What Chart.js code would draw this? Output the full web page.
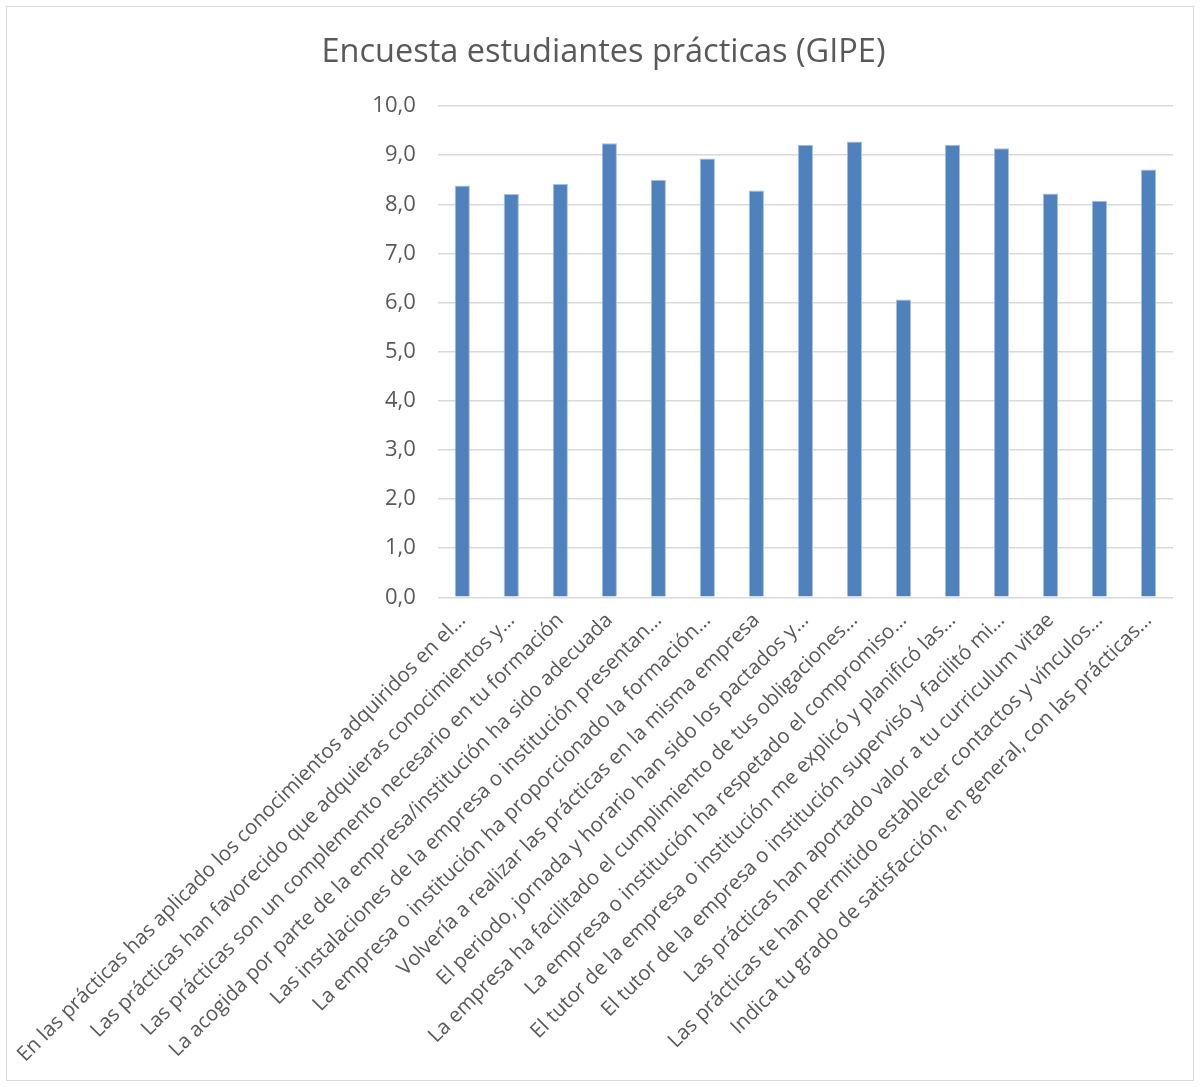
<!DOCTYPE html>
<html>
<head>
<meta charset="utf-8">
<script src="https://cdn.jsdelivr.net/npm/chart.js@4"></script>
<style>
  html, body { margin: 0; padding: 0; background: #ffffff; }
  #box { position: absolute; left: 6px; top: 6px; width: 1188px; height: 1075px; border: 1px solid #d9d9d9; box-sizing: border-box; }
  canvas { display: block; }
</style>
</head>
<body>
<div id="box"><canvas id="c"></canvas></div>
<script>
const chartTitle = "Encuesta estudiantes prácticas (GIPE)";
const categories = [
  "En las prácticas has aplicado los conocimientos adquiridos en el…",
  "Las prácticas han favorecido que adquieras conocimientos y…",
  "Las prácticas son un complemento necesario en tu formación",
  "La acogida por parte de la empresa/institución ha sido adecuada",
  "Las instalaciones de la empresa o institución presentan…",
  "La empresa o institución ha proporcionado la formación…",
  "Volvería a realizar las prácticas en la misma empresa",
  "El periodo, jornada y horario han sido los pactados y…",
  "La empresa ha facilitado el cumplimiento de tus obligaciones…",
  "La empresa o institución ha respetado el compromiso…",
  "El tutor de la empresa o institución me explicó y planificó las…",
  "El tutor de la empresa o institución supervisó y facilitó mi…",
  "Las prácticas han aportado valor a tu curriculum vitae",
  "Las prácticas te han permitido establecer contactos y vínculos…",
  "Indica tu grado de satisfacción, en general, con las prácticas…"
];
const scores = [8.38, 8.21, 8.41, 9.24, 8.50, 8.93, 8.28, 9.21, 9.28, 6.06, 9.21, 9.14, 8.22, 8.07, 8.71];
const yMin = 0, yMax = 10, yStep = 1;

const FONT = "'Open Sans', 'DejaVu Sans', sans-serif";
const TXT = '#595959';

const titleShift = {
  id: 'titleShift',
  afterLayout(chart) {
    const tb = chart.titleBlock;
    if (tb) { tb.left += 12; tb.right += 12; }
  }
};

new Chart(document.getElementById('c'), {
  type: 'bar',
  data: {
    labels: categories,
    datasets: [{
      data: scores,
      backgroundColor: '#4f81bd',
      borderColor: '#a9c0df',
      borderWidth: 1,
      barPercentage: 0.31,
      categoryPercentage: 1.0
    }]
  },
  plugins: [titleShift],
  options: {
    responsive: true,
    maintainAspectRatio: false,
    animation: false,
    devicePixelRatio: 1,
    layout: { padding: { top: 26, right: 20, bottom: 2, left: 3 } },
    plugins: {
      legend: { display: false },
      tooltip: { enabled: false },
      title: {
        display: true,
        text: chartTitle,
        color: TXT,
        font: { family: FONT, size: 32.5, weight: 'normal' },
        padding: { top: 0, bottom: 34 }
      }
    },
    scales: {
      x: {
        grid: { display: false, drawTicks: false },
        border: { display: false },
        ticks: {
          color: TXT,
          font: { family: FONT, size: 20.5 },
          maxRotation: 45,
          minRotation: 45,
          autoSkip: false,
          padding: 11
        }
      },
      y: {
        min: yMin,
        max: yMax,
        grid: { color: '#d9d9d9', lineWidth: 1.5, drawTicks: false },
        border: { display: false },
        ticks: {
          stepSize: yStep,
          color: TXT,
          font: { family: FONT, size: 22 },
          padding: 22,
          callback: v => v.toFixed(1).replace('.', ',')
        }
      }
    }
  }
});
</script>
</body>
</html>
